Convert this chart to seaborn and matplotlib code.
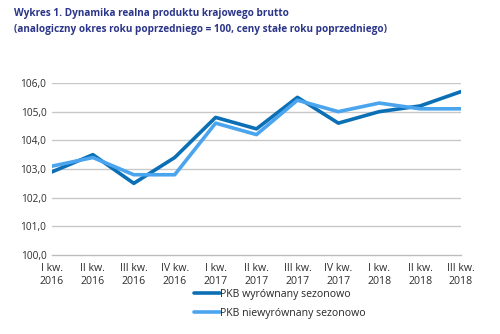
import matplotlib
matplotlib.use("Agg")
import matplotlib.pyplot as plt
import seaborn as sns
import pandas as pd

quarters = ["I kw.\n2016", "II kw.\n2016", "III kw.\n2016", "IV kw.\n2016",
            "I kw.\n2017", "II kw.\n2017", "III kw.\n2017", "IV kw.\n2017",
            "I kw.\n2018", "II kw.\n2018", "III kw.\n2018"]
sa_values = [102.9, 103.5, 102.5, 103.4, 104.8, 104.4, 105.5, 104.6, 105.0, 105.2, 105.7]
nsa_values = [103.1, 103.4, 102.8, 102.8, 104.6, 104.2, 105.4, 105.0, 105.3, 105.1, 105.1]
series_names = ["PKB wyrównany sezonowo", "PKB niewyrównany sezonowo"]
y_ticks = [100, 101, 102, 103, 104, 105, 106]

df = pd.DataFrame({
    "idx": list(range(len(quarters))) * 2,
    "value": sa_values + nsa_values,
    "series": [series_names[0]] * len(quarters) + [series_names[1]] * len(quarters),
})

sns.set_style("white")
plt.rcParams["font.family"] = ["Open Sans", "DejaVu Sans"]

fig = plt.figure(figsize=(5.0, 3.34), dpi=100)
ax = fig.add_axes([0.104, 0.2365, 0.818, 0.515])

palette = {series_names[0]: "#0b6fb6", series_names[1]: "#4ba4ee"}
sns.lineplot(data=df, x="idx", y="value", hue="series", hue_order=series_names,
             palette=palette, linewidth=2.6, ax=ax, legend=True)

ax.set_xlim(0, len(quarters) - 1)
ax.set_ylim(100, 106)
ax.set_yticks(y_ticks)
ax.set_yticklabels([f"{v:.1f}".replace(".", ",") for v in y_ticks], fontsize=7.3, color="#2e2e2e")
ax.set_xticks(range(len(quarters)))
ax.set_xticklabels(quarters, fontsize=7.6, color="#2e2e2e", linespacing=1.2)
ax.set_xlabel("")
ax.set_ylabel("")

for y in y_ticks[1:]:
    ax.axhline(y, color="#c8c8c8", linewidth=1.0, zorder=0)

for s in ["top", "right", "left"]:
    ax.spines[s].set_visible(False)
ax.spines["bottom"].set_color("#bdbdbd")
ax.spines["bottom"].set_linewidth(1.0)
ax.tick_params(axis="x", length=3, width=0.8, color="#bdbdbd", pad=3)
ax.tick_params(axis="y", length=0, pad=4)

leg = ax.legend(loc="upper left", bbox_to_anchor=(0.348, -0.195), frameon=False,
                fontsize=7.6, handlelength=2.4, handletextpad=0.05, labelspacing=0.8,
                borderaxespad=0, borderpad=0)
for h in leg.get_lines():
    h.set_linewidth(2.6)

fig.text(0.028, 0.96, "Wykres 1. Dynamika realna produktu krajowego brutto",
         fontsize=7.2, fontweight="bold", color="#2b3589", va="center")
fig.text(0.028, 0.912, "(analogiczny okres roku poprzedniego = 100, ceny stałe roku poprzedniego)",
         fontsize=7.2, fontweight="bold", color="#2b3589", va="center")

fig.savefig("out.png", dpi=100)
